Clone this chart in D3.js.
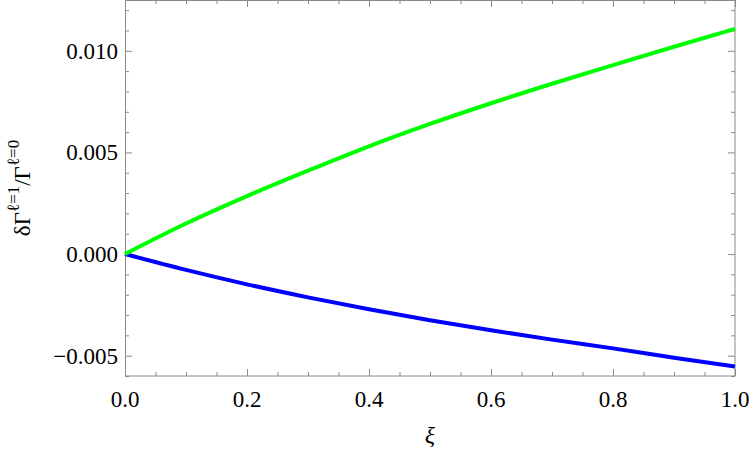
<!DOCTYPE html>
<html>
<head>
<meta charset="utf-8">
<script src="https://cdn.jsdelivr.net/npm/d3@7"></script>
<style>
  body { margin: 0; background: #fff; }
  svg text { font-family: "Liberation Serif", "Times New Roman", "DejaVu Serif", serif; }
</style>
</head>
<body>
<div id="chart"></div>
<script>
  // values
  const xiValues = [0, 0.1, 0.2, 0.3, 0.4, 0.5, 0.6, 0.7, 0.8, 0.9, 1.0];
  const greenSeries = [0, 0.00150, 0.00285, 0.00410, 0.00530, 0.00640, 0.00742, 0.00838, 0.00930, 0.01020, 0.01108];
  const blueSeries = [0, -0.00078, -0.00149, -0.00213, -0.00272, -0.00326, -0.00375, -0.00421, -0.00464, -0.00510, -0.00553];
  const xTicks = [0, 0.2, 0.4, 0.6, 0.8, 1.0];
  const yTicks = [-0.005, 0, 0.005, 0.010];

  const width = 750;
  const height = 455;
  const margin = {top: 0, right: 15, bottom: 79, left: 125};
  const innerW = width - margin.left - margin.right;
  const innerH = height - margin.top - margin.bottom;
  const frameColor = '#8a8a8a';

  const svg = d3.select('#chart')
    .append('svg')
    .attr('width', width)
    .attr('height', height);

  const g = svg.append('g')
    .attr('transform', 'translate(' + margin.left + ',' + margin.top + ')');

  const x = d3.scaleLinear().domain([0, 1]).range([0, innerW]);
  const y = d3.scaleLinear().domain([-0.006, 0.0125]).range([innerH, 0]);

  const xMinor = d3.range(0, 1.0001, 0.05).filter(v => !xTicks.some(t => Math.abs(t - v) < 1e-9));
  const yMinor = d3.range(-0.006, 0.01251, 0.001).filter(v => !yTicks.some(t => Math.abs(t - v) < 1e-9));

  // ticks on all four sides, pointing inward
  function drawTicks(axisFn, scale, values, size, transform) {
    g.append('g')
      .attr('transform', transform)
      .call(axisFn(scale).tickValues(values).tickSize(size).tickFormat(''))
      .call(s => s.select('.domain').remove())
      .call(s => s.selectAll('line').attr('stroke', frameColor));
  }
  drawTicks(d3.axisTop, x, xTicks, 7, 'translate(0,' + innerH + ')');
  drawTicks(d3.axisTop, x, xMinor, 4, 'translate(0,' + innerH + ')');
  drawTicks(d3.axisBottom, x, xTicks, 7, 'translate(0,0)');
  drawTicks(d3.axisBottom, x, xMinor, 4, 'translate(0,0)');
  drawTicks(d3.axisRight, y, yTicks, 7, 'translate(0,0)');
  drawTicks(d3.axisRight, y, yMinor, 4, 'translate(0,0)');
  drawTicks(d3.axisLeft, y, yTicks, 7, 'translate(' + innerW + ',0)');
  drawTicks(d3.axisLeft, y, yMinor, 4, 'translate(' + innerW + ',0)');

  g.append('rect')
    .attr('x', 0.5)
    .attr('y', 0.5)
    .attr('width', innerW - 0.5)
    .attr('height', innerH - 0.5)
    .attr('fill', 'none')
    .attr('stroke', frameColor)
    .attr('stroke-width', 1);

  // tick labels
  g.selectAll('.xlabel')
    .data(xTicks)
    .enter().append('text')
    .attr('class', 'xlabel')
    .attr('x', d => x(d))
    .attr('y', innerH + 31)
    .attr('text-anchor', 'middle')
    .style('font-size', '23px')
    .text(d => d3.format('.1f')(d));

  g.selectAll('.ylabel')
    .data(yTicks)
    .enter().append('text')
    .attr('class', 'ylabel')
    .attr('x', -7)
    .attr('y', d => y(d) + 8)
    .attr('text-anchor', 'end')
    .style('font-size', '23px')
    .text(d => (d < 0 ? '\u2212' : '') + d3.format('.3f')(Math.abs(d)));

  // curves
  const line = d3.line()
    .x((d, i) => x(xiValues[i]))
    .y(d => y(d))
    .curve(d3.curveMonotoneX);

  g.append('path')
    .datum(blueSeries)
    .attr('d', line)
    .attr('fill', 'none')
    .attr('stroke', '#0000ff')
    .attr('stroke-width', 4);

  g.append('path')
    .datum(greenSeries)
    .attr('d', line)
    .attr('fill', 'none')
    .attr('stroke', '#00ff00')
    .attr('stroke-width', 4);

  // axis titles
  svg.append('text')
    .attr('x', margin.left + innerW / 2)
    .attr('y', 443)
    .attr('text-anchor', 'middle')
    .style('font-size', '24px')
    .style('font-style', 'italic')
    .text('\u03BE');

  const yTitle = svg.append('text')
    .attr('transform', 'translate(30,' + (innerH / 2) + ') rotate(-90)')
    .attr('text-anchor', 'middle')
    .style('font-size', '23px');
  yTitle.append('tspan').text('\u03B4\u0393');
  yTitle.append('tspan').attr('dy', -11).style('font-size', '17px').text('\u2113=1');
  yTitle.append('tspan').attr('dy', 11).text('/\u0393');
  yTitle.append('tspan').attr('dy', -11).style('font-size', '17px').text('\u2113=0');
</script>
</body>
</html>
